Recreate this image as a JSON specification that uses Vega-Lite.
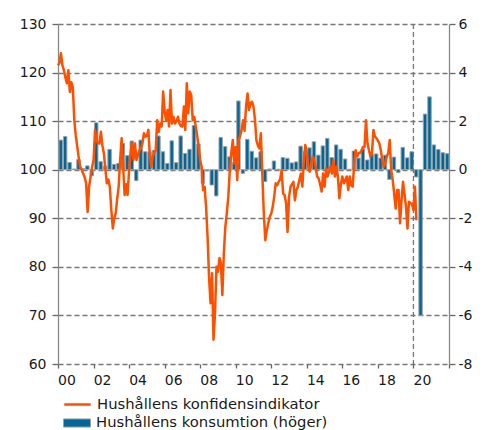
{
  "$schema": "https://vega.github.io/schema/vega-lite/v6.json",
  "width": 391,
  "height": 340,
  "autosize": {"type": "none"},
  "padding": {"left": 58, "top": 24, "right": 40, "bottom": 66},
  "background": "white",
  "config": {
    "view": {"stroke": null},
    "font": "DejaVu Sans",
    "axis": {"labelFont": "DejaVu Sans", "labelFontSize": 14, "labelColor": "#1a1a1a", "title": null, "tickColor": "#666", "domainColor": "#888", "domainWidth": 1.3, "tickWidth": 1.3},
    "axisX": {
      "values": [
        {"year": 2000, "utc": true}, {"year": 2001, "utc": true}, {"year": 2002, "utc": true}, {"year": 2003, "utc": true}, {"year": 2004, "utc": true}, {"year": 2005, "utc": true}, {"year": 2006, "utc": true}, {"year": 2007, "utc": true}, {"year": 2008, "utc": true}, {"year": 2009, "utc": true}, {"year": 2010, "utc": true}, {"year": 2011, "utc": true}, {"year": 2012, "utc": true}, {"year": 2013, "utc": true}, {"year": 2014, "utc": true}, {"year": 2015, "utc": true}, {"year": 2016, "utc": true}, {"year": 2017, "utc": true}, {"year": 2018, "utc": true}, {"year": 2019, "utc": true}, {"year": 2020, "utc": true}, {"year": 2021, "utc": true}
      ],
      "labelExpr": "(utcyear(datum.value) % 2 == 0 && utcyear(datum.value) <= 2020) ? utcFormat(datum.value, '%y') : ''",
      "labelOffset": 8.5, "labelFlush": false, "labelOverlap": false, "labelPadding": 5,
      "domain": false, "grid": false, "tickSize": 4
    }
  },
  "datasets": {
    "cons": [
      {"d": "2000-01-01", "v": 1.22}, {"d": "2000-04-01", "v": 1.37}, {"d": "2000-07-01", "v": 0.3}, {"d": "2000-10-01", "v": 0.03},
      {"d": "2001-01-01", "v": 0.42}, {"d": "2001-04-01", "v": 0.05}, {"d": "2001-07-01", "v": 0.16}, {"d": "2001-10-01", "v": -0.25},
      {"d": "2002-01-01", "v": 1.93}, {"d": "2002-04-01", "v": 0.33}, {"d": "2002-07-01", "v": 0.15}, {"d": "2002-10-01", "v": 0.84},
      {"d": "2003-01-01", "v": 0.22}, {"d": "2003-04-01", "v": 0.26}, {"d": "2003-07-01", "v": 1.08}, {"d": "2003-10-01", "v": 0.58},
      {"d": "2004-01-01", "v": 1.18}, {"d": "2004-04-01", "v": -0.45}, {"d": "2004-07-01", "v": 1.22}, {"d": "2004-10-01", "v": 0.74},
      {"d": "2005-01-01", "v": 0.74}, {"d": "2005-04-01", "v": 0.8}, {"d": "2005-07-01", "v": 1.39}, {"d": "2005-10-01", "v": 0.74},
      {"d": "2006-01-01", "v": 0.26}, {"d": "2006-04-01", "v": 1.19}, {"d": "2006-07-01", "v": 0.29}, {"d": "2006-10-01", "v": 1.39},
      {"d": "2007-01-01", "v": 0.67}, {"d": "2007-04-01", "v": 0.84}, {"d": "2007-07-01", "v": 1.82}, {"d": "2007-10-01", "v": 1.06},
      {"d": "2008-01-01", "v": -0.56}, {"d": "2008-04-01", "v": -0.05}, {"d": "2008-07-01", "v": -0.63}, {"d": "2008-10-01", "v": -1.08},
      {"d": "2009-01-01", "v": 1.33}, {"d": "2009-04-01", "v": 0.95}, {"d": "2009-07-01", "v": 0.53}, {"d": "2009-10-01", "v": 0.29},
      {"d": "2010-01-01", "v": 2.83}, {"d": "2010-04-01", "v": -0.15}, {"d": "2010-07-01", "v": 1.25}, {"d": "2010-10-01", "v": 0.76},
      {"d": "2011-01-01", "v": 0.49}, {"d": "2011-04-01", "v": 0.74}, {"d": "2011-07-01", "v": -0.49}, {"d": "2011-10-01", "v": 0.03},
      {"d": "2012-01-01", "v": 0.36}, {"d": "2012-04-01", "v": 0.02}, {"d": "2012-07-01", "v": 0.5}, {"d": "2012-10-01", "v": 0.47},
      {"d": "2013-01-01", "v": 0.28}, {"d": "2013-04-01", "v": 0.32}, {"d": "2013-07-01", "v": 0.97}, {"d": "2013-10-01", "v": 0.74},
      {"d": "2014-01-01", "v": 0.9}, {"d": "2014-04-01", "v": 1.15}, {"d": "2014-07-01", "v": 0.6}, {"d": "2014-10-01", "v": 0.98},
      {"d": "2015-01-01", "v": 1.29}, {"d": "2015-04-01", "v": 0.5}, {"d": "2015-07-01", "v": 1.02}, {"d": "2015-10-01", "v": 0.84},
      {"d": "2016-01-01", "v": 0.44}, {"d": "2016-04-01", "v": 0.02}, {"d": "2016-07-01", "v": 0.77}, {"d": "2016-10-01", "v": 0.48},
      {"d": "2017-01-01", "v": 0.86}, {"d": "2017-04-01", "v": 0.4}, {"d": "2017-07-01", "v": 0.63}, {"d": "2017-10-01", "v": 0.65},
      {"d": "2018-01-01", "v": 0.48}, {"d": "2018-04-01", "v": 0.6}, {"d": "2018-07-01", "v": -0.4}, {"d": "2018-10-01", "v": 0.52},
      {"d": "2019-01-01", "v": -0.12}, {"d": "2019-04-01", "v": 0.92}, {"d": "2019-07-01", "v": 0.49}, {"d": "2019-10-01", "v": 0.74},
      {"d": "2020-01-01", "v": -0.3}, {"d": "2020-04-01", "v": -6.0}, {"d": "2020-07-01", "v": 2.29}, {"d": "2020-10-01", "v": 3.0},
      {"d": "2021-01-01", "v": 1.02}, {"d": "2021-04-01", "v": 0.83}, {"d": "2021-07-01", "v": 0.7}, {"d": "2021-10-01", "v": 0.66}
    ],
    "conf": [
      {"d": "2000-01-01", "v": 121.5}, {"d": "2000-02-01", "v": 122}, {"d": "2000-03-01", "v": 124}, {"d": "2000-04-01", "v": 121.5}, {"d": "2000-05-01", "v": 120.5}, {"d": "2000-06-01", "v": 119}, {"d": "2000-07-01", "v": 117.8}, {"d": "2000-08-01", "v": 120.5}, {"d": "2000-09-01", "v": 116}, {"d": "2000-10-01", "v": 118}, {"d": "2000-11-01", "v": 117}, {"d": "2000-12-01", "v": 110.2},
      {"d": "2001-01-01", "v": 107}, {"d": "2001-02-01", "v": 104.7}, {"d": "2001-03-01", "v": 102.5}, {"d": "2001-04-01", "v": 100.6}, {"d": "2001-05-01", "v": 100}, {"d": "2001-06-01", "v": 99.2}, {"d": "2001-07-01", "v": 98.5}, {"d": "2001-08-01", "v": 97.2}, {"d": "2001-09-01", "v": 91.3}, {"d": "2001-10-01", "v": 96.5}, {"d": "2001-11-01", "v": 98.6}, {"d": "2001-12-01", "v": 100.5},
      {"d": "2002-01-01", "v": 102}, {"d": "2002-02-01", "v": 108.2}, {"d": "2002-03-01", "v": 106}, {"d": "2002-04-01", "v": 105.5}, {"d": "2002-05-01", "v": 105.4}, {"d": "2002-06-01", "v": 107.8}, {"d": "2002-07-01", "v": 105}, {"d": "2002-08-01", "v": 103.4}, {"d": "2002-09-01", "v": 100}, {"d": "2002-10-01", "v": 97.2}, {"d": "2002-11-01", "v": 98}, {"d": "2002-12-01", "v": 96.5},
      {"d": "2003-01-01", "v": 91.7}, {"d": "2003-02-01", "v": 87.9}, {"d": "2003-03-01", "v": 90}, {"d": "2003-04-01", "v": 91}, {"d": "2003-05-01", "v": 94}, {"d": "2003-06-01", "v": 96.5}, {"d": "2003-07-01", "v": 102}, {"d": "2003-08-01", "v": 106.5}, {"d": "2003-09-01", "v": 100.6}, {"d": "2003-10-01", "v": 94.8}, {"d": "2003-11-01", "v": 97}, {"d": "2003-12-01", "v": 94.8},
      {"d": "2004-01-01", "v": 100}, {"d": "2004-02-01", "v": 103.4}, {"d": "2004-03-01", "v": 105.4}, {"d": "2004-04-01", "v": 102}, {"d": "2004-05-01", "v": 105.4}, {"d": "2004-06-01", "v": 102}, {"d": "2004-07-01", "v": 103}, {"d": "2004-08-01", "v": 104}, {"d": "2004-09-01", "v": 104.5}, {"d": "2004-10-01", "v": 105.4}, {"d": "2004-11-01", "v": 107.5}, {"d": "2004-12-01", "v": 106.8},
      {"d": "2005-01-01", "v": 107}, {"d": "2005-02-01", "v": 108.2}, {"d": "2005-03-01", "v": 103}, {"d": "2005-04-01", "v": 100.6}, {"d": "2005-05-01", "v": 102.7}, {"d": "2005-06-01", "v": 103.5}, {"d": "2005-07-01", "v": 104}, {"d": "2005-08-01", "v": 110.2}, {"d": "2005-09-01", "v": 107.8}, {"d": "2005-10-01", "v": 109.5}, {"d": "2005-11-01", "v": 108.9}, {"d": "2005-12-01", "v": 116.1},
      {"d": "2006-01-01", "v": 112}, {"d": "2006-02-01", "v": 110.2}, {"d": "2006-03-01", "v": 112.3}, {"d": "2006-04-01", "v": 108.9}, {"d": "2006-05-01", "v": 116.4}, {"d": "2006-06-01", "v": 109.5}, {"d": "2006-07-01", "v": 110.9}, {"d": "2006-08-01", "v": 109.5}, {"d": "2006-09-01", "v": 110}, {"d": "2006-10-01", "v": 110.9}, {"d": "2006-11-01", "v": 109.5}, {"d": "2006-12-01", "v": 109},
      {"d": "2007-01-01", "v": 108.9}, {"d": "2007-02-01", "v": 113}, {"d": "2007-03-01", "v": 108.2}, {"d": "2007-04-01", "v": 117.8}, {"d": "2007-05-01", "v": 111.6}, {"d": "2007-06-01", "v": 116.1}, {"d": "2007-07-01", "v": 115.4}, {"d": "2007-08-01", "v": 110.2}, {"d": "2007-09-01", "v": 110.9}, {"d": "2007-10-01", "v": 108.9}, {"d": "2007-11-01", "v": 107}, {"d": "2007-12-01", "v": 104.7},
      {"d": "2008-01-01", "v": 102}, {"d": "2008-02-01", "v": 100.6}, {"d": "2008-03-01", "v": 95.8}, {"d": "2008-04-01", "v": 96.5}, {"d": "2008-05-01", "v": 92.4}, {"d": "2008-06-01", "v": 86.2}, {"d": "2008-07-01", "v": 78}, {"d": "2008-08-01", "v": 72.5}, {"d": "2008-09-01", "v": 78.7}, {"d": "2008-10-01", "v": 65}, {"d": "2008-11-01", "v": 70.4}, {"d": "2008-12-01", "v": 80},
      {"d": "2009-01-01", "v": 79}, {"d": "2009-02-01", "v": 81.8}, {"d": "2009-03-01", "v": 80.7}, {"d": "2009-04-01", "v": 74.2}, {"d": "2009-05-01", "v": 82.8}, {"d": "2009-06-01", "v": 88.2}, {"d": "2009-07-01", "v": 91}, {"d": "2009-08-01", "v": 94.4}, {"d": "2009-09-01", "v": 99.9}, {"d": "2009-10-01", "v": 103.4}, {"d": "2009-11-01", "v": 106.1}, {"d": "2009-12-01", "v": 101.3},
      {"d": "2010-01-01", "v": 104.7}, {"d": "2010-02-01", "v": 97.9}, {"d": "2010-03-01", "v": 106.1}, {"d": "2010-04-01", "v": 107}, {"d": "2010-05-01", "v": 108.2}, {"d": "2010-06-01", "v": 110.2}, {"d": "2010-07-01", "v": 108}, {"d": "2010-08-01", "v": 113}, {"d": "2010-09-01", "v": 115.7}, {"d": "2010-10-01", "v": 112.3}, {"d": "2010-11-01", "v": 113.7}, {"d": "2010-12-01", "v": 114},
      {"d": "2011-01-01", "v": 113}, {"d": "2011-02-01", "v": 110.2}, {"d": "2011-03-01", "v": 106.1}, {"d": "2011-04-01", "v": 105}, {"d": "2011-05-01", "v": 104.4}, {"d": "2011-06-01", "v": 107.5}, {"d": "2011-07-01", "v": 99.2}, {"d": "2011-08-01", "v": 91}, {"d": "2011-09-01", "v": 85.5}, {"d": "2011-10-01", "v": 87.5}, {"d": "2011-11-01", "v": 89}, {"d": "2011-12-01", "v": 90.3},
      {"d": "2012-01-01", "v": 91}, {"d": "2012-02-01", "v": 92.4}, {"d": "2012-03-01", "v": 94.4}, {"d": "2012-04-01", "v": 97.2}, {"d": "2012-05-01", "v": 96.8}, {"d": "2012-06-01", "v": 97.5}, {"d": "2012-07-01", "v": 98}, {"d": "2012-08-01", "v": 99.9}, {"d": "2012-09-01", "v": 95.1}, {"d": "2012-10-01", "v": 94.8}, {"d": "2012-11-01", "v": 93.1}, {"d": "2012-12-01", "v": 87.2},
      {"d": "2013-01-01", "v": 94.4}, {"d": "2013-02-01", "v": 96.5}, {"d": "2013-03-01", "v": 97}, {"d": "2013-04-01", "v": 97.5}, {"d": "2013-05-01", "v": 93.7}, {"d": "2013-06-01", "v": 95.8}, {"d": "2013-07-01", "v": 96.5}, {"d": "2013-08-01", "v": 97.9}, {"d": "2013-09-01", "v": 99.2}, {"d": "2013-10-01", "v": 96.5}, {"d": "2013-11-01", "v": 102}, {"d": "2013-12-01", "v": 105.1},
      {"d": "2014-01-01", "v": 103.4}, {"d": "2014-02-01", "v": 100.6}, {"d": "2014-03-01", "v": 99.6}, {"d": "2014-04-01", "v": 101}, {"d": "2014-05-01", "v": 102.7}, {"d": "2014-06-01", "v": 102}, {"d": "2014-07-01", "v": 100.6}, {"d": "2014-08-01", "v": 98.6}, {"d": "2014-09-01", "v": 98.2}, {"d": "2014-10-01", "v": 97}, {"d": "2014-11-01", "v": 95.5}, {"d": "2014-12-01", "v": 99.2},
      {"d": "2015-01-01", "v": 96.5}, {"d": "2015-02-01", "v": 100.3}, {"d": "2015-03-01", "v": 98.6}, {"d": "2015-04-01", "v": 99.5}, {"d": "2015-05-01", "v": 100.6}, {"d": "2015-06-01", "v": 99.2}, {"d": "2015-07-01", "v": 102}, {"d": "2015-08-01", "v": 98.6}, {"d": "2015-09-01", "v": 100.6}, {"d": "2015-10-01", "v": 98.6}, {"d": "2015-11-01", "v": 94.1}, {"d": "2015-12-01", "v": 97},
      {"d": "2016-01-01", "v": 98.6}, {"d": "2016-02-01", "v": 97.2}, {"d": "2016-03-01", "v": 97.9}, {"d": "2016-04-01", "v": 98.6}, {"d": "2016-05-01", "v": 95.8}, {"d": "2016-06-01", "v": 98.6}, {"d": "2016-07-01", "v": 96.8}, {"d": "2016-08-01", "v": 96.5}, {"d": "2016-09-01", "v": 101.3}, {"d": "2016-10-01", "v": 104}, {"d": "2016-11-01", "v": 102.7}, {"d": "2016-12-01", "v": 103.4},
      {"d": "2017-01-01", "v": 103.5}, {"d": "2017-02-01", "v": 104}, {"d": "2017-03-01", "v": 104.7}, {"d": "2017-04-01", "v": 104.7}, {"d": "2017-05-01", "v": 110.2}, {"d": "2017-06-01", "v": 105.4}, {"d": "2017-07-01", "v": 104}, {"d": "2017-08-01", "v": 102.7}, {"d": "2017-09-01", "v": 103.4}, {"d": "2017-10-01", "v": 108.2}, {"d": "2017-11-01", "v": 106.8}, {"d": "2017-12-01", "v": 106.5},
      {"d": "2018-01-01", "v": 106}, {"d": "2018-02-01", "v": 105.4}, {"d": "2018-03-01", "v": 104}, {"d": "2018-04-01", "v": 102}, {"d": "2018-05-01", "v": 100.6}, {"d": "2018-06-01", "v": 101.5}, {"d": "2018-07-01", "v": 102.7}, {"d": "2018-08-01", "v": 103.4}, {"d": "2018-09-01", "v": 106.1}, {"d": "2018-10-01", "v": 99.9}, {"d": "2018-11-01", "v": 97.9}, {"d": "2018-12-01", "v": 95.1},
      {"d": "2019-01-01", "v": 92}, {"d": "2019-02-01", "v": 95.8}, {"d": "2019-03-01", "v": 95.8}, {"d": "2019-04-01", "v": 89}, {"d": "2019-05-01", "v": 93.7}, {"d": "2019-06-01", "v": 97.5}, {"d": "2019-07-01", "v": 95}, {"d": "2019-08-01", "v": 92.4}, {"d": "2019-09-01", "v": 87.9}, {"d": "2019-10-01", "v": 93.4}, {"d": "2019-11-01", "v": 93.1}, {"d": "2019-12-01", "v": 93},
      {"d": "2020-01-01", "v": 91.7}, {"d": "2020-02-01", "v": 96.5}, {"d": "2020-03-01", "v": 89.6}
    ],
    "mark2020": [{"d": "2020-01-01"}]
  },
  "layer": [
    {
      "data": {"name": "cons"},
      "mark": {"type": "bar", "stroke": "#a0a0a0", "strokeWidth": 1},
      "encoding": {
        "x": {
          "field": "d", "type": "temporal", "timeUnit": "utcyearquarter",
          "scale": {"type": "utc", "domain": [{"year": 2000, "month": 1, "date": 1, "utc": true}, {"year": 2022, "month": 1, "date": 1, "utc": true}]},
          "title": null
        },
        "y": {
          "field": "v", "type": "quantitative",
          "scale": {"domain": [-8, 6], "nice": false, "zero": false},
          "axis": {"orient": "right", "values": [-8, -6, -4, -2, 0, 2, 4, 6], "labelExpr": "'' + datum.value", "grid": false, "tickSize": 6, "labelPadding": 3, "title": null}
        },
        "fill": {
          "datum": "Hushållens konsumtion (höger)",
          "scale": {"range": ["#00679a"]},
          "legend": {
            "orient": "none", "legendX": 5, "legendY": 385, "title": null, "padding": 0,
            "symbolType": "M-1,-0.3H1V0.3H-1Z", "symbolSize": 729, "symbolStrokeColor": "#a0a0a0", "symbolStrokeWidth": 1,
            "labelFontSize": 14.8, "labelColor": "#1a1a1a", "labelFont": "DejaVu Sans", "labelOffset": 5, "labelLimit": 0
          }
        }
      }
    },
    {
      "data": {"name": "mark2020"},
      "mark": {"type": "rule", "stroke": "#777", "strokeWidth": 1.3, "strokeDash": [5, 3]},
      "encoding": {"x": {"field": "d", "type": "temporal", "title": null}}
    },
    {
      "data": {"name": "conf"},
      "mark": {"type": "line", "strokeWidth": 2.5, "strokeJoin": "round"},
      "encoding": {
        "x": {"field": "d", "type": "temporal", "title": null},
        "y": {
          "field": "v", "type": "quantitative",
          "scale": {"domain": [60, 130], "nice": false, "zero": false},
          "axis": {"orient": "left", "values": [60, 70, 80, 90, 100, 110, 120, 130], "grid": true, "gridDash": [5, 3], "gridColor": "#777", "gridWidth": 1.3, "tickSize": 6, "labelPadding": 6, "title": null}
        },
        "stroke": {
          "datum": "Hushållens konfidensindikator",
          "scale": {"range": ["#ff5000"]},
          "legend": {
            "orient": "none", "legendX": 5, "legendY": 366, "title": null, "padding": 0,
            "symbolType": "stroke", "symbolSize": 700, "symbolStrokeWidth": 2.5,
            "labelFontSize": 14.8, "labelColor": "#1a1a1a", "labelFont": "DejaVu Sans", "labelOffset": 5, "labelLimit": 0
          }
        }
      }
    }
  ],
  "resolve": {"scale": {"y": "independent"}}
}
